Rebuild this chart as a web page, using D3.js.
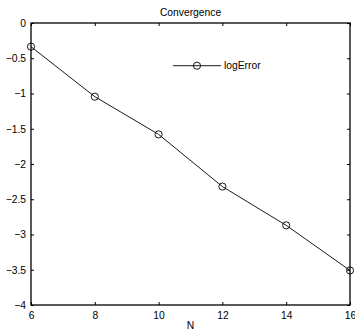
<!DOCTYPE html>
<html>
<head>
<meta charset="utf-8">
<script src="https://cdn.jsdelivr.net/npm/d3@7"></script>
<style>
body { margin: 0; background: #fff; }
text { font-family: "Liberation Sans", Arial, sans-serif; fill: #000; }
</style>
</head>
<body>
<script>
let nValues = [6, 8, 10, 12, 14, 16]
let logError = [-0.336, -1.045, -1.58, -2.32, -2.87, -3.51]
let xTicks = [6, 8, 10, 12, 14, 16]
let yTicks = [0, -0.5, -1, -1.5, -2, -2.5, -3, -3.5, -4]

let width = 355, height = 332
let margin = {left: 31, top: 23, right: 5, bottom: 27}
let fontSize = "10.3px"

let svg = d3.select("body")
    .append("svg")
    .attr("width", width)
    .attr("height", height)

let x = d3.scaleLinear().domain([6, 16]).range([margin.left, width - margin.right])
let y = d3.scaleLinear().domain([-4, 0]).range([height - margin.bottom, margin.top])

let fmt = d => String(d).replace("-", "\u2212")

// inward ticks on all four sides
svg.append("g")
    .attr("transform", `translate(0,${y(-4)})`)
    .call(d3.axisBottom(x).tickValues(xTicks).tickSize(-3).tickPadding(7).tickFormat(fmt))
svg.append("g")
    .attr("transform", `translate(0,${y(0)})`)
    .call(d3.axisTop(x).tickValues(xTicks).tickSize(-3).tickFormat(""))
svg.append("g")
    .attr("transform", `translate(${x(6)},0)`)
    .call(d3.axisLeft(y).tickValues(yTicks).tickSize(-3).tickPadding(5).tickFormat(fmt))
svg.append("g")
    .attr("transform", `translate(${x(16)},0)`)
    .call(d3.axisRight(y).tickValues(yTicks).tickSize(-3).tickFormat(""))

svg.selectAll(".domain").remove()
svg.selectAll(".tick text").style("font-size", fontSize).style("font-family", "Liberation Sans, Arial, sans-serif")

svg.append("rect")
    .attr("x", x(6)).attr("y", y(0))
    .attr("width", x(16) - x(6)).attr("height", y(-4) - y(0))
    .attr("fill", "none").attr("stroke", "#000").attr("stroke-width", 1.3)

let pts = nValues.map((n, i) => [x(n), y(logError[i])])

svg.append("path")
    .attr("d", d3.line()(pts))
    .attr("fill", "none")
    .attr("stroke", "#000")
    .attr("stroke-width", 0.9)

svg.selectAll("circle.pt")
    .data(pts)
    .enter()
    .append("circle")
    .attr("class", "pt")
    .attr("cx", d => d[0])
    .attr("cy", d => d[1])
    .attr("r", 3.6)
    .attr("fill", "none")
    .attr("stroke", "#000")
    .attr("stroke-width", 0.9)

// legend
let ly = 65.7
svg.append("line")
    .attr("x1", 173).attr("x2", 221).attr("y1", ly).attr("y2", ly)
    .attr("stroke", "#000").attr("stroke-width", 0.9)
svg.append("circle")
    .attr("cx", 197).attr("cy", ly).attr("r", 3.6)
    .attr("fill", "none").attr("stroke", "#000").attr("stroke-width", 0.9)
svg.append("text")
    .attr("x", 224).attr("y", ly + 3.7)
    .style("font-size", fontSize)
    .text("logError")

svg.append("text")
    .attr("x", (x(6) + x(16)) / 2).attr("y", 16)
    .attr("text-anchor", "middle")
    .style("font-size", fontSize)
    .text("Convergence")

svg.append("text")
    .attr("x", (x(6) + x(16)) / 2).attr("y", 329)
    .attr("text-anchor", "middle")
    .style("font-size", fontSize)
    .text("N")
</script>
</body>
</html>
